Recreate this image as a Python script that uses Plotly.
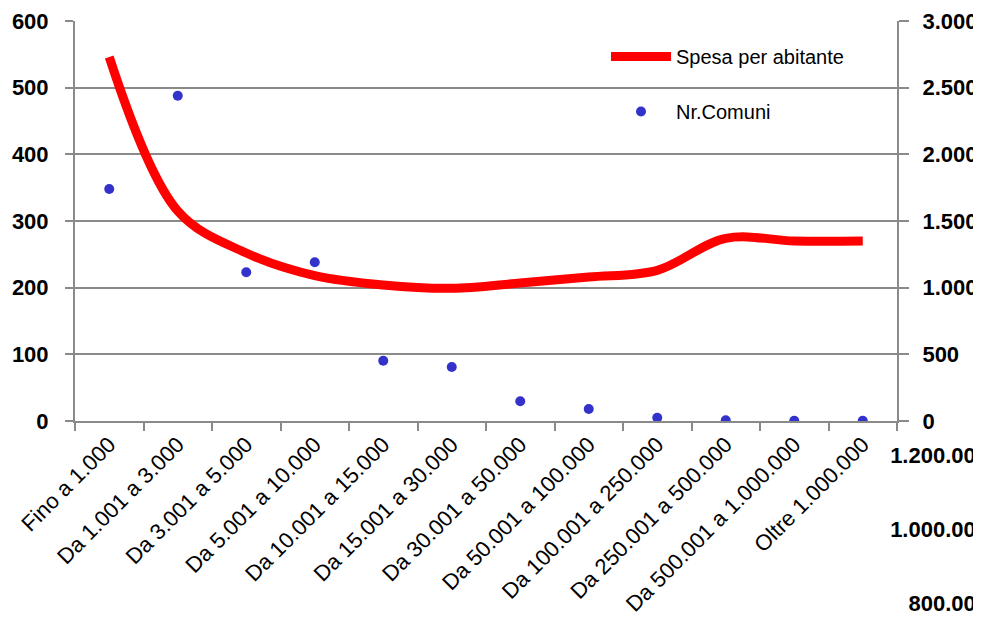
import plotly.graph_objects as go

categories = [
    "Fino a 1.000", "Da 1.001 a 3.000", "Da 3.001 a 5.000", "Da 5.001 a 10.000",
    "Da 10.001 a 15.000", "Da 15.001 a 30.000", "Da 30.001 a 50.000",
    "Da 50.001 a 100.000", "Da 100.001 a 250.000", "Da 250.001 a 500.000",
    "Da 500.001 a 1.000.000", "Oltre 1.000.000",
]
spesa_per_abitante = [546, 315, 252, 218, 204, 199, 207, 216, 226, 274, 270, 270]
nr_comuni = [1740, 2440, 1115, 1190, 452, 405, 148, 90, 25, 5, 2, 1]
left_ticks = [0, 100, 200, 300, 400, 500, 600]
right_ticks = [0, 500, 1000, 1500, 2000, 2500, 3000]
extra_ticks = [800000, 1000000, 1200000]

FONT = "Liberation Sans, Arial, sans-serif"
GRID = "#8a8a8a"

fig = go.Figure()
fig.add_trace(go.Scatter(
    x=categories, y=spesa_per_abitante, name="Spesa per abitante",
    mode="lines", line=dict(color="#FF0000", width=9, shape="spline", smoothing=1.0),
    yaxis="y", legendgroup="a",
))
fig.add_trace(go.Scatter(
    x=categories, y=nr_comuni, name="Nr.Comuni",
    mode="markers", marker=dict(color="#3333CC", size=10),
    yaxis="y2", legendgroup="b",
))
fig.add_trace(go.Scatter(x=[categories[0]], y=[None], yaxis="y3", showlegend=False,
                         hoverinfo="skip", mode="markers"))

# page body adds an 8px offset; plot area spans 75..897 x 21..624 on screen
main_bottom = (624 - 421) / 603
BOLD = dict(size=22, family=FONT, weight="bold")

fig.update_layout(
    width=981, height=616,
    margin=dict(l=67, r=92, t=13, b=0, pad=0),
    paper_bgcolor="white", plot_bgcolor="white",
    separators=",.",
    font=dict(family=FONT, size=22, color="black"),
    showlegend=True,
    legend=dict(
        x=(606 - 75) / 822, y=(624 - 37) / 603, xanchor="left", yanchor="top",
        bgcolor="rgba(0,0,0,0)", font=dict(size=20, family=FONT),
        itemwidth=60, traceorder="grouped", tracegroupgap=26,
    ),
    xaxis=dict(
        type="category", range=[-0.5, 11.5], domain=[0, 1], anchor="y",
        tickson="boundaries", ticks="outside", ticklen=8, tickwidth=2, tickcolor=GRID,
        showline=True, linecolor=GRID, linewidth=2, showgrid=False,
        tickangle=-45, tickfont=dict(size=22), automargin=False,
    ),
    yaxis=dict(
        range=[0, 600], tickvals=left_ticks, domain=[main_bottom, 1],
        ticks="outside", ticklen=8, tickwidth=2, tickcolor=GRID,
        showline=True, linecolor=GRID, linewidth=2, tickfont=BOLD,
        showgrid=True, gridcolor=GRID, gridwidth=2, zeroline=False,
        ticklabelstandoff=12, automargin=False,
    ),
    yaxis2=dict(
        range=[0, 3000], tickvals=right_ticks, tickformat=",d",
        overlaying="y", side="right", anchor="x", tickfont=BOLD,
        ticks="outside", ticklen=10, tickwidth=2, tickcolor=GRID,
        showline=True, linecolor=GRID, linewidth=2,
        showgrid=False, zeroline=False, ticklabelstandoff=9, automargin=False,
    ),
    yaxis3=dict(
        range=[743000, 1216000], tickvals=extra_ticks, tickformat=",d",
        domain=[0, 0.29], anchor="free", position=1, side="left", tickfont=BOLD,
        ticks="", showline=False, showgrid=False, zeroline=False,
        ticklabelstandoff=-91, automargin=False,
    ),
)

fig.write_html("out.html")
